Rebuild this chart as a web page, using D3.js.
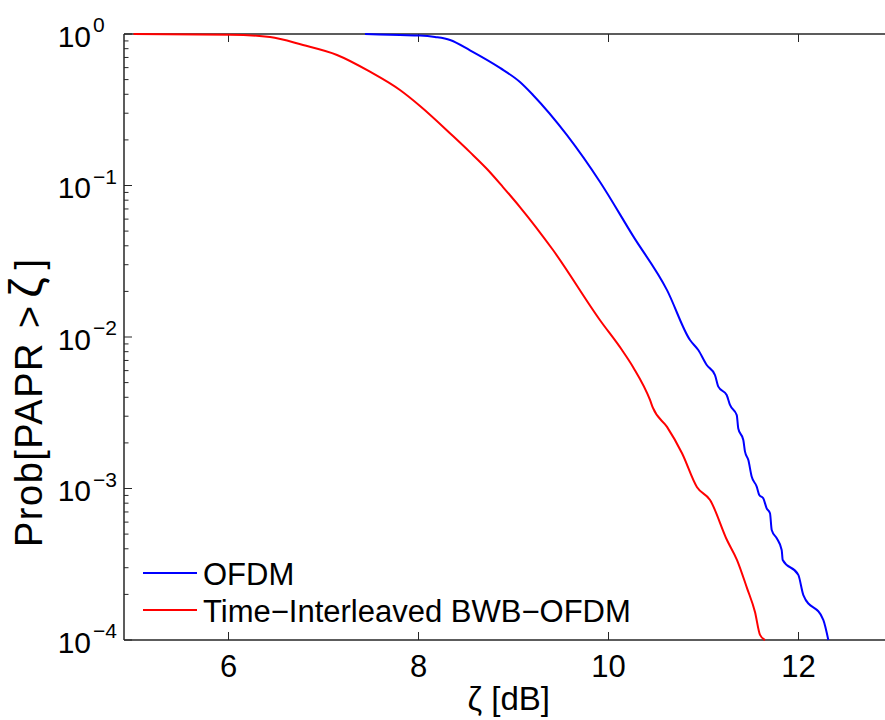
<!DOCTYPE html>
<html>
<head>
<meta charset="utf-8">
<script src="https://cdn.jsdelivr.net/npm/d3@7"></script>
<style>
  html, body { margin: 0; padding: 0; background: #fff; }
  svg { display: block; font-family: "Liberation Sans", Arial, Helvetica, sans-serif; }
</style>
</head>
<body>
<svg id="chart" width="885" height="720"></svg>
<script>
// ---- data ----
const ofdmX = [7.437, 7.805, 8.016, 8.174, 8.332, 8.542, 8.858, 9.068, 9.205, 9.563, 9.911, 10.258, 10.616, 10.858,
  10.945, 11.034, 11.121, 11.156, 11.244, 11.279, 11.350, 11.366, 11.419, 11.437, 11.472, 11.507, 11.560,
  11.587, 11.629, 11.665, 11.700, 11.718, 11.771, 11.823, 11.834, 11.998, 12.051, 12.261, 12.314];
const ofdmY = [1.0, 0.985, 0.977, 0.955, 0.913, 0.78, 0.597, 0.482, 0.396, 0.215, 0.1055, 0.0465, 0.0204, 0.00955,
  8.2e-3, 6.53e-3, 5.61e-3, 4.70e-3, 4.14e-3, 3.56e-3, 3.05e-3, 2.49e-3, 2.09e-3, 1.75e-3, 1.54e-3, 1.20e-3, 1.03e-3,
  9.06e-4, 8.61e-4, 7.40e-4, 6.86e-4, 5.32e-4, 4.69e-4, 3.93e-4, 3.37e-4, 2.69e-4, 1.98e-4, 1.36e-4, 1.0e-4];

const tiX = [5.0, 6.016, 6.437, 6.784, 7.142, 7.489, 7.805, 8.016, 8.363, 8.542, 8.721, 8.889, 9.068, 9.416, 9.911, 10.142,
  10.258, 10.437, 10.468, 10.616, 10.774, 10.932, 11.069, 11.247, 11.353, 11.458, 11.542, 11.595, 11.647];
const tiY = [1.0, 0.99, 0.955, 0.846, 0.727, 0.564, 0.427, 0.335, 0.212, 0.166, 0.1285, 0.0977, 0.0721, 0.0375, 0.0129, 0.0082,
  6.34e-3, 3.84e-3, 3.4e-3, 2.55e-3, 1.71e-3, 1.02e-3, 8.4e-4, 4.57e-4, 3.37e-4, 2.2e-4, 1.53e-4, 1.08e-4, 1.0e-4];

const seriesNames = ["OFDM", "Time\u2212Interleaved BWB\u2212OFDM"];
const seriesColors = ["#0000ff", "#ff0000"];
const xTicks = [6, 8, 10, 12];
const yTickExps = [0, -1, -2, -3, -4];
const xDomain = [4.9, 13];
const yDomain = [1e-4, 1];
const xLabel = "\u03B6 [dB]";
const yLabelParts = ["Prob[PAPR", ">", "\u03B6", "]"];

// ---- layout ----
const L = 124, T = 34, R = 893.5, B = 640;
const svg = d3.select("#chart");
const x = d3.scaleLinear().domain(xDomain).range([L, R]);
const y = d3.scaleLog().domain(yDomain).range([B, T]);

const axisColor = "#262626";
const g = svg.append("g");

// minor y ticks
const minor = [];
for (let e = -4; e < 0; e++) for (let m = 2; m <= 9; m++) minor.push(m * Math.pow(10, e));
g.selectAll("line.minor").data(minor).enter().append("line")
  .attr("x1", L).attr("x2", L + 4.5)
  .attr("y1", d => y(d)).attr("y2", d => y(d))
  .attr("stroke", axisColor).attr("stroke-width", 1);

// major y ticks
g.selectAll("line.ymaj").data(yTickExps).enter().append("line")
  .attr("x1", L).attr("x2", L + 8)
  .attr("y1", d => y(Math.pow(10, d))).attr("y2", d => y(Math.pow(10, d)))
  .attr("stroke", axisColor).attr("stroke-width", 1);

// x ticks (bottom & top, inward)
g.selectAll("line.xb").data(xTicks).enter().append("line")
  .attr("x1", d => x(d)).attr("x2", d => x(d)).attr("y1", B).attr("y2", B - 8)
  .attr("stroke", axisColor).attr("stroke-width", 1);
g.selectAll("line.xt").data(xTicks).enter().append("line")
  .attr("x1", d => x(d)).attr("x2", d => x(d)).attr("y1", T).attr("y2", T + 8)
  .attr("stroke", axisColor).attr("stroke-width", 1);

// axes box
[[L, T, R, T], [L, B, R, B], [L, T, L, B], [R, T, R, B]].forEach(s => {
  g.append("line").attr("x1", s[0]).attr("y1", s[1]).attr("x2", s[2]).attr("y2", s[3])
    .attr("stroke", axisColor).attr("stroke-width", 1.5);
});

// x tick labels
g.selectAll("text.xt").data(xTicks).enter().append("text")
  .attr("x", d => x(d)).attr("y", 677)
  .attr("text-anchor", "middle").attr("font-size", 31).attr("fill", "#000")
  .text(d => d);

// y tick labels 10^e
yTickExps.forEach(e => {
  const yy = y(Math.pow(10, e));
  g.append("text").attr("x", 91).attr("y", yy + 12.5)
    .attr("text-anchor", "end").attr("font-size", 30).attr("fill", "#000").text("10");
  g.append("text").attr("x", 93).attr("y", yy - 2)
    .attr("text-anchor", "start").attr("font-size", 21).attr("fill", "#000")
    .text(e === 0 ? "0" : "\u2212" + Math.abs(e));
});

// lines
const line = d3.line().x(d => x(d[0])).y(d => y(d[1])).curve(d3.curveMonotoneX);
const seriesData = [d3.zip(ofdmX, ofdmY), d3.zip(tiX, tiY)];
svg.append("g").selectAll("path").data(seriesData).enter().append("path")
  .attr("d", line).attr("fill", "none")
  .attr("stroke", (d, i) => seriesColors[i]).attr("stroke-width", 2)
  .attr("stroke-linejoin", "round");

// legend
const legY = [573, 610];
const leg = svg.append("g");
seriesNames.forEach((n, i) => {
  leg.append("line").attr("x1", 143).attr("x2", 197).attr("y1", legY[i]).attr("y2", legY[i])
    .attr("stroke", seriesColors[i]).attr("stroke-width", 2);
  leg.append("text").attr("x", 203).attr("y", legY[i] + 11.5)
    .attr("font-size", 31).attr("fill", "#000").text(n);
});

// axis labels
svg.append("text").attr("x", (L + R) / 2).attr("y", 710)
  .attr("text-anchor", "middle").attr("font-size", 33).attr("fill", "#000").text(xLabel);
const yl = svg.append("text").attr("transform", "translate(42,547) rotate(-90)")
  .attr("text-anchor", "start").attr("font-size", 38).attr("fill", "#000");
yl.append("tspan").attr("letter-spacing", 1.5).text(yLabelParts[0]);
yl.append("tspan").attr("dx", 14).text(yLabelParts[1]);
yl.append("tspan").attr("dx", 8).attr("font-size", 46).text(yLabelParts[2]);
yl.append("tspan").attr("dx", 8).text(yLabelParts[3]);
</script>
</body>
</html>
